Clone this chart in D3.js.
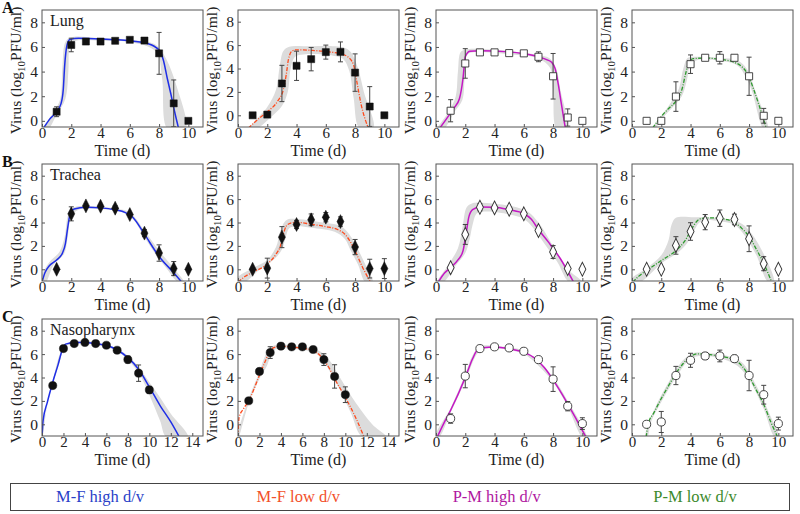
<!DOCTYPE html>
<html><head><meta charset="utf-8">
<script src="https://cdn.jsdelivr.net/npm/d3@7"></script>
<style>
body{margin:0;background:#fff;}
</style></head>
<body><svg id="c" width="800" height="514"></svg>
<script>
// ---------- data ----------
const tissues = ["Lung", "Trachea", "Nasopharynx"];
const panelLetters = ["A", "B", "C"];
const models = ["M-F high d/v", "M-F low d/v", "P-M high d/v", "P-M low d/v"];
const modelColors = ["#1f2ee6", "#ff4a1c", "#c416c4", "#2e9a2e"];
const legendColors = ["#2a3fc8", "#f2502a", "#b0179f", "#3c8a2c"];
const days = [1, 2, 3, 4, 5, 6, 7, 8, 9, 10];
const yTicks = [0, 2, 4, 6, 8];

// observed means and error bars (log10 PFU/ml)
const meanA1 = [0.74, 6.16, 6.44, 6.44, 6.5, 6.58, 6.52, 5.48, 1.42, 0];
const errA1  = [0.4, 0.55, 0, 0, 0, 0, 0, 1.7, 1.9, 0];
const meanA2 = [0, 0.06, 2.72, 4.23, 4.8, 5.4, 5.42, 3.65, 0.75, 0];
const errA2  = [0, 0.2, 1.55, 1.25, 1.0, 0.6, 0.85, 1.6, 1.7, 0];
const meanA3 = [0.82, 4.66, 5.56, 5.56, 5.5, 5.48, 5.2, 3.62, 0.27, 0];
const errA3  = [0.9, 1.2, 0, 0, 0, 0, 0.4, 1.85, 0.7, 0];
const meanA4 = [0, 0, 1.97, 4.6, 5.12, 5.12, 5.12, 3.62, 0.41, 0];
const errA4  = [0, 0, 1.2, 0.75, 0.2, 0.5, 0.2, 1.55, 0.6, 0];
const meanB1 = [0, 4.74, 5.42, 5.39, 5.22, 4.68, 3.09, 1.39, 0.06, 0];
const errB1  = [0, 0.6, 0, 0, 0.2, 0, 0.3, 0.7, 0.6, 0];
const meanB2 = [0, 0.1, 2.75, 3.83, 4.23, 4.45, 4.08, 1.9, 0.06, 0.06];
const errB2  = [0, 0.85, 0.9, 0.35, 0.5, 0.4, 0.4, 0.65, 0.8, 0.85];
const meanB3 = [0.14, 2.98, 5.3, 5.25, 5.13, 4.74, 3.32, 1.48, 0.06, 0];
const errB3  = [0, 0.85, 0.3, 0.2, 0, 0, 0, 0.55, 0, 0];
const meanB4 = [0, 0, 2.04, 3.23, 4.03, 4.37, 4.26, 2.61, 0.48, 0];
const errB4  = [0, 0, 0.75, 0.75, 0.65, 0.7, 0.45, 1.1, 0.6, 0];
const meanC1 = [3.31, 6.47, 6.9, 6.99, 6.9, 6.76, 6.33, 5.53, 4.37, 2.94];
const errC1  = [0, 0, 0, 0, 0, 0, 0, 0.3, 0.7, 0.3];
const meanC2 = [2.01, 4.52, 6.13, 6.68, 6.62, 6.62, 6.39, 5.53, 4.09, 2.53];
const errC2  = [0, 0, 0.5, 0, 0, 0, 0, 0.5, 1.0, 0.67];
const meanC3 = [0.49, 4.12, 6.47, 6.62, 6.53, 6.24, 5.53, 3.86, 1.55, 0.06];
const errC3  = [0.4, 1.0, 0, 0, 0, 0, 0, 1.05, 0.4, 0.5];
const meanC4 = [0, 0.2, 4.17, 5.47, 5.84, 5.84, 5.61, 4.17, 2.53, 0.06];
const errC4  = [0, 0.9, 0.78, 0.6, 0.3, 0.5, 0.3, 1.3, 0.8, 0.55];

// model fits [t, value]
const fitA1 = [[0.1,-0.6],[0.5,0.1],[1.0,0.75],[1.3,1.4],[1.45,2.5],[1.55,4.5],[1.7,6.1],[1.9,6.6],[2.5,6.7],[4,6.65],[6,6.5],[7,6.35],[7.8,5.95],[8.1,5.6],[8.3,4.9],[8.55,3.5],[8.8,2.2],[9.05,0.8],[9.35,-0.7]];
const fitA2 = [[0.7,-1.1],[1.5,-0.2],[2,0.3],[2.7,1.2],[3.1,2.2],[3.3,3.5],[3.45,4.8],[3.7,5.5],[4,5.6],[5,5.55],[6,5.45],[7,5.25],[7.5,5.0],[7.9,4.3],[8.1,3.0],[8.4,1.0],[8.9,-1.1]];
const fitA3 = [[0.25,-0.6],[0.8,0.3],[1.2,1.0],[1.6,1.8],[1.85,3.5],[2.0,5.2],[2.3,5.65],[3,5.7],[5,5.6],[6,5.45],[7,5.2],[7.6,4.95],[7.9,4.75],[8.15,4.2],[8.35,3.0],[8.55,1.5],[8.85,-0.7]];
const fitA4 = [[1.4,-0.6],[2.0,0.35],[2.5,1.0],[3.0,1.6],[3.4,2.5],[3.7,4.0],[3.9,4.8],[4.2,5.05],[5,5.1],[6,5.0],[7,4.75],[7.5,4.4],[7.9,3.8],[8.3,2.6],[8.7,1.2],[9.2,-0.7]];
const fitB1 = [[0,-1.1],[0.2,-0.3],[0.5,0.3],[1.0,0.8],[1.4,1.4],[1.6,2.2],[1.75,3.5],[1.9,4.6],[2.2,5.15],[3,5.3],[4,5.25],[5,5.08],[5.7,4.85],[6.2,4.45],[7,3.0],[8,1.1],[9,-0.3],[9.55,-1.1]];
const fitB2 = [[0,-1.1],[0.5,-0.6],[1,-0.25],[2,0.45],[2.6,1.3],[2.9,2.0],[3.1,3.0],[3.3,3.7],[3.6,3.95],[4,4.02],[5,3.85],[6,3.65],[6.8,3.4],[7.3,3.0],[7.7,2.3],[8.1,1.3],[8.5,0.2],[9.05,-1.1]];
const fitB3 = [[0.15,-1.1],[0.6,-0.3],[1,0.15],[1.5,0.8],[1.85,1.6],[2.05,3.0],[2.25,4.5],[2.5,5.1],[3,5.33],[4,5.3],[5,5.08],[6,4.75],[6.5,4.3],[7,3.4],[7.7,2.3],[8.5,0.9],[9.4,-1.1]];
const fitB4 = [[0.05,-1.1],[0.5,-0.55],[1,-0.1],[2,0.75],[3,1.6],[3.6,2.4],[4.1,3.5],[4.5,4.2],[4.9,4.38],[5.5,4.4],[6.5,4.25],[7.0,4.0],[7.5,3.5],[8.0,2.8],[8.5,1.7],[9.0,0.5],[9.55,-1.1]];
const fitC1 = [[0,-1.1],[0.1,0.3],[0.5,1.9],[1.0,3.6],[1.5,5.1],[1.9,6.4],[2.2,6.85],[3,7.0],[4,7.0],[5,6.9],[6,6.75],[7,6.35],[8,5.7],[9,4.7],[10,3.2],[11,1.6],[12,0.2],[12.8,-1.1]];
const fitC2 = [[0,-1.1],[0.1,0.6],[0.5,1.3],[1,2.0],[2,4.2],[2.5,5.3],[3,6.3],[3.5,6.6],[4,6.68],[5,6.6],[6,6.5],[7,6.3],[7.5,6.0],[8,5.5],[8.5,4.8],[9,3.9],[10,2.3],[11,0.5],[11.75,-1.1]];
const fitC3 = [[0.08,-1.1],[0.5,0.0],[1,1.2],[2,4.0],[2.5,5.6],[2.8,6.3],[3.2,6.55],[4,6.6],[5,6.45],[6,6.15],[6.7,5.7],[7.4,4.85],[8,3.8],[9,1.75],[9.6,0.4],[10.25,-1.1]];
const fitC4 = [[0.97,-1.1],[1.1,0],[1.5,1.0],[2,2.2],[2.5,3.3],[3,4.35],[3.5,5.2],[4,5.8],[4.5,6.02],[5,6.0],[6,5.82],[7,5.5],[7.5,5.0],[8,4.1],[8.5,2.9],[9,1.7],[9.5,0.15],[9.95,-1.1]];

// uncertainty bands: outline points (upper edge forward, lower edge back)
const bandA1 = [[0.05,-0.7],[0.9,0.9],[1.25,1.8],[1.4,4.5],[1.6,6.4],[2,6.78],[4,6.72],[6,6.58],[7.5,6.32],[7.95,6.0],[8.5,5.0],[9.2,2.8],[9.8,-0.7],[8.6,-0.7],[8.2,3.5],[7.8,5.6],[6,6.4],[4,6.5],[2.2,6.45],[1.9,6.0],[1.8,4.0],[1.6,1.8],[1.0,0.5],[0.4,-0.7]];
const bandA2 = [[0.8,-1.1],[2.0,0.7],[2.6,2.2],[2.85,4.2],[3.1,5.5],[3.5,5.85],[4.5,5.9],[7.2,5.8],[7.7,5.4],[8.2,4.0],[8.6,2.0],[9.25,-1.1],[8.3,-1.1],[7.9,1.5],[7.6,3.8],[7.2,4.8],[6.5,5.1],[4.5,5.2],[3.9,5.0],[3.6,4.0],[3.4,2.0],[3.0,0.8],[2.2,-0.2],[1.3,-1.1]];
const bandA3 = [[0.1,-0.7],[0.9,0.8],[1.35,2.0],[1.5,4.0],[1.7,5.6],[2.2,5.82],[7,5.35],[7.8,5.05],[8.2,4.3],[8.5,2.5],[8.95,-0.7],[8.25,-0.7],[8.0,2.5],[7.8,4.3],[7.0,5.05],[5,5.4],[2.3,5.5],[2.05,5.2],[1.95,3.5],[1.8,1.7],[1.3,0.8],[0.5,-0.7]];
const bandA4 = [[1.35,-0.7],[2.5,1.2],[3.2,2.6],[3.5,4.2],[3.8,5.1],[4.3,5.2],[6,5.12],[7.2,4.9],[7.8,4.3],[8.5,2.2],[9.3,-0.7],[9.0,-0.7],[8.2,2.4],[7.8,3.5],[7.2,4.5],[6,4.88],[4.5,4.95],[4.0,4.6],[3.75,3.3],[3.4,2.0],[2.7,1.0],[2.0,0.1],[1.55,-0.7]];
const bandB1 = [[0,-0.6],[0.5,0.6],[1.2,1.5],[1.55,2.8],[1.8,4.7],[2.2,5.3],[3,5.42],[5,5.2],[6,4.85],[7,3.3],[8,1.6],[9,0.1],[9.7,-1.1],[9.3,-1.1],[8.5,0.1],[7.7,1.4],[7,2.75],[6.2,4.3],[5.5,4.85],[4,5.15],[2.5,5.1],[2.0,4.5],[1.75,2.7],[1.5,1.3],[0.8,0.4],[0.25,-1.1]];
const bandB2 = [[0,-0.7],[1,0.1],[2,0.8],[2.6,1.9],[2.9,3.3],[3.3,4.2],[4,4.3],[6,3.95],[7,3.7],[7.6,3.0],[8.2,1.7],[8.7,0.4],[9.2,-1.1],[8.7,-1.1],[8.2,0.4],[7.7,1.6],[7.3,2.6],[6.6,3.2],[5,3.55],[4,3.7],[3.5,3.5],[3.25,2.7],[3.0,1.7],[2.5,0.9],[1.5,0.0],[0.4,-1.1]];
const bandB3 = [[0.1,-1.1],[0.8,0.3],[1.5,1.8],[1.8,3.5],[2.1,5.3],[2.5,5.65],[4,5.6],[5.5,5.3],[6.3,4.9],[7,4.0],[8,2.0],[9,0.0],[10,-1.1],[9.1,-1.1],[8.3,0.6],[7.4,2.2],[6.6,3.6],[6.0,4.3],[5,4.7],[3.5,4.95],[2.8,4.8],[2.5,3.8],[2.3,2.6],[2.0,1.4],[1.4,0.4],[0.5,-1.1]];
const bandB4 = [[0,-0.8],[1,0.1],[2,1.2],[2.5,2.5],[2.7,3.8],[3.0,4.4],[4.3,4.45],[6.5,4.3],[7.5,3.9],[8.2,3.0],[9,1.3],[9.7,-1.1],[9.3,-1.1],[8.5,1.2],[8.0,2.3],[7.5,3.2],[7.0,3.8],[6,4.1],[5.0,4.2],[4.6,4.0],[4.2,3.2],[3.8,2.3],[3.2,1.5],[2.0,0.5],[0.5,-1.1]];
const bandC1 = [[0,-0.9],[1,3.7],[2,6.6],[3,7.1],[5,7.0],[7,6.45],[8,5.85],[9,4.9],[10,3.6],[11,2.3],[12,0.9],[13.6,-1.1],[11.6,-1.1],[11,0.3],[10,2.5],[9,4.4],[8,5.5],[7,6.25],[5,6.8],[3,6.9],[2.2,6.6],[1.5,4.9],[0.5,1.7],[0.05,-1.1]];
const bandC2 = [[0,-0.8],[1,2.2],[2,4.5],[2.5,5.8],[3,6.6],[4,6.8],[6,6.65],[7.5,6.3],[8.5,5.5],[9.5,4.0],[11,1.8],[12.5,0.0],[13.8,-1.1],[11.6,-1.1],[10.5,1.0],[9.5,2.9],[8.5,4.6],[7.8,5.6],[7,6.15],[5,6.45],[3.8,6.5],[3.2,6.2],[2.7,5.0],[2,3.9],[1,1.8],[0.05,-1.1]];
const bandC3 = [[0,-0.9],[1,1.4],[2,4.3],[2.5,5.9],[3,6.65],[4,6.72],[5,6.56],[6,6.3],[7,5.4],[8,4.0],[9,2.0],[10.3,-1.1],[10.0,-1.1],[9,1.5],[8,3.6],[7,5.0],[6,6.0],[5,6.35],[4,6.5],[3.2,6.4],[2.8,6.0],[2,3.7],[1,1.0],[0.2,-1.1]];
const bandC4 = [[0.9,-1.1],[1.5,1.2],[2.5,3.6],[3.5,5.5],[4.2,6.1],[5,6.12],[6.5,5.85],[7.5,5.3],[8.5,3.3],[9.5,0.6],[10.05,-1.1],[9.75,-1.1],[9,1.3],[8,3.8],[7.2,5.0],[6,5.65],[4.8,5.85],[4.0,5.6],[3,4.0],[2,1.9],[1.3,0.2],[1.05,-1.1]];

// axis ranges per panel
const yMinRows = [[-0.5, -1, -0.5, -0.5], [-1, -1, -1, -1], [-1, -1, -1, -1]];
const yMax = 9;
const xMaxRows = [[11, 11, 11, 11], [11, 11, 11, 11], [15, 15, 11, 11]];

// ---------- build panel table ----------
const means = [[meanA1, meanA2, meanA3, meanA4], [meanB1, meanB2, meanB3, meanB4], [meanC1, meanC2, meanC3, meanC4]];
const errs  = [[errA1, errA2, errA3, errA4], [errB1, errB2, errB3, errB4], [errC1, errC2, errC3, errC4]];
const fits  = [[fitA1, fitA2, fitA3, fitA4], [fitB1, fitB2, fitB3, fitB4], [fitC1, fitC2, fitC3, fitC4]];
const bands = [[bandA1, bandA2, bandA3, bandA4], [bandB1, bandB2, bandB3, bandB4], [bandC1, bandC2, bandC3, bandC4]];
const markerShapes = [d3.symbolSquare, d3.symbolDiamond, d3.symbolCircle];
const markerSizes = [50, 42, 52];

// ---------- layout ----------
const colLeft = [42, 238, 436, 632];
const rowTop = [10, 164, 319];
const pw = 161, ph = 117;

const FONT = "Liberation Serif, serif";
const svg = d3.select("#c");
const txt = sel => sel.style("font-family", FONT);

for (let r = 0; r < 3; r++) {
  for (let c = 0; c < 4; c++) {
    const x0 = colLeft[c], y0 = rowTop[r];
    const x = d3.scaleLinear().domain([0, xMaxRows[r][c]]).range([x0, x0 + pw]);
    const y = d3.scaleLinear().domain([yMinRows[r][c], yMax]).range([y0 + ph, y0]);
    const g = svg.append("g");
    const cid = `clip${r}${c}`;
    g.append("clipPath").attr("id", cid).append("rect")
      .attr("x", x0).attr("y", y0).attr("width", pw).attr("height", ph);
    const pg = g.append("g").attr("clip-path", `url(#${cid})`);

    // band
    pg.append("path").datum(bands[r][c])
      .attr("d", d3.line().x(d => x(d[0])).y(d => y(d[1])).curve(d3.curveCatmullRomClosed.alpha(0.5)))
      .attr("fill", "#dcdcdc").attr("stroke", "none");

    // fit curve
    const dashed = (c === 1 || c === 3);
    pg.append("path").datum(fits[r][c])
      .attr("d", d3.line().x(d => x(d[0])).y(d => y(d[1])).curve(d3.curveMonotoneX))
      .attr("fill", "none").attr("stroke", modelColors[c])
      .attr("stroke-width", dashed ? 1.3 : 1.5)
      .attr("stroke-dasharray", dashed ? "4,1.5,1,1.5" : null);

    // error bars
    const pts = days.map((t, i) => ({t, v: means[r][c][i], e: errs[r][c][i]}));
    const eb = pg.append("g").attr("stroke", "#444").attr("stroke-width", 1);
    pts.filter(p => p.e > 0).forEach(p => {
      eb.append("line").attr("x1", x(p.t)).attr("x2", x(p.t)).attr("y1", y(p.v - p.e)).attr("y2", y(p.v + p.e));
      eb.append("line").attr("x1", x(p.t) - 2.5).attr("x2", x(p.t) + 2.5).attr("y1", y(p.v - p.e)).attr("y2", y(p.v - p.e));
      eb.append("line").attr("x1", x(p.t) - 2.5).attr("x2", x(p.t) + 2.5).attr("y1", y(p.v + p.e)).attr("y2", y(p.v + p.e));
    });

    // markers
    const filled = c < 2;
    const sym = d3.symbol().type(markerShapes[r]).size(markerSizes[r]);
    g.append("g").selectAll("path").data(pts).join("path")
      .attr("d", sym)
      .attr("transform", p => `translate(${x(p.t)},${y(p.v)})` + (r === 1 ? " scale(1,1.15)" : ""))
      .attr("fill", filled ? "#111" : "#fff")
      .attr("stroke", filled ? "#111" : "#333")
      .attr("stroke-width", filled ? 0.5 : 0.9);

    // frame
    g.append("rect").attr("x", x0).attr("y", y0).attr("width", pw).attr("height", ph)
      .attr("fill", "none").attr("stroke", "#555").attr("stroke-width", 1);

    // axes
    const xt = d3.range(0, xMaxRows[r][c] + 0.01, 2);
    g.append("g").attr("transform", `translate(0,${y0 + ph})`)
      .call(d3.axisBottom(x).tickValues(xt).tickSize(-3).tickPadding(0).tickFormat(d3.format("d")))
      .call(a => { a.attr("font-family", null); a.select(".domain").remove(); a.selectAll("line").attr("stroke", "#555");
        a.selectAll("text").call(txt).attr("font-size", 15).attr("fill", "#222"); });
    g.append("g").attr("transform", `translate(${x0},0)`)
      .call(d3.axisLeft(y).tickValues(yTicks).tickSize(-3).tickPadding(4).tickFormat(d3.format("d")))
      .call(a => { a.attr("font-family", null); a.select(".domain").remove(); a.selectAll("line").attr("stroke", "#555");
        a.selectAll("text").call(txt).attr("font-size", 15.5).attr("fill", "#222"); });

    // axis titles
    g.append("text").call(txt).attr("x", x0 + pw / 2).attr("y", y0 + ph + 29)
      .attr("text-anchor", "middle").attr("font-size", 16).attr("fill", "#222").text("Time (d)");
    const yl = g.append("text").call(txt)
      .attr("transform", `translate(${x0 - 21},${y0 + ph / 2 + 2}) rotate(-90)`)
      .attr("text-anchor", "middle").attr("font-size", 15.5).attr("fill", "#222");
    yl.append("tspan").text("Virus (log");
    yl.append("tspan").attr("font-size", 11).attr("dy", 4).text("10");
    yl.append("tspan").attr("dy", -4).text("PFU/ml)");

    if (c === 0) {
      g.append("text").call(txt).attr("x", x0 + 8).attr("y", y0 + 16).attr("font-size", 16).attr("fill", "#222").text(tissues[r]);
      g.append("text").call(txt).attr("x", 2).attr("y", y0 + 3).attr("font-size", 16).attr("font-weight", "bold").attr("fill", "#111").text(panelLetters[r]);
    }
  }
}

// legend
svg.append("rect").attr("x", 10.5).attr("y", 483.5).attr("width", 779).attr("height", 27)
  .attr("fill", "none").attr("stroke", "#444").attr("stroke-width", 1);
const legX = d3.scalePoint().domain(models).range([100, 695]);
svg.append("g").selectAll("text").data(models).join("text").call(txt)
  .attr("x", d => legX(d)).attr("y", 502).attr("text-anchor", "middle")
  .attr("font-size", 16.5).attr("fill", (d, i) => legendColors[i]).text(d => d);
</script></body></html>
